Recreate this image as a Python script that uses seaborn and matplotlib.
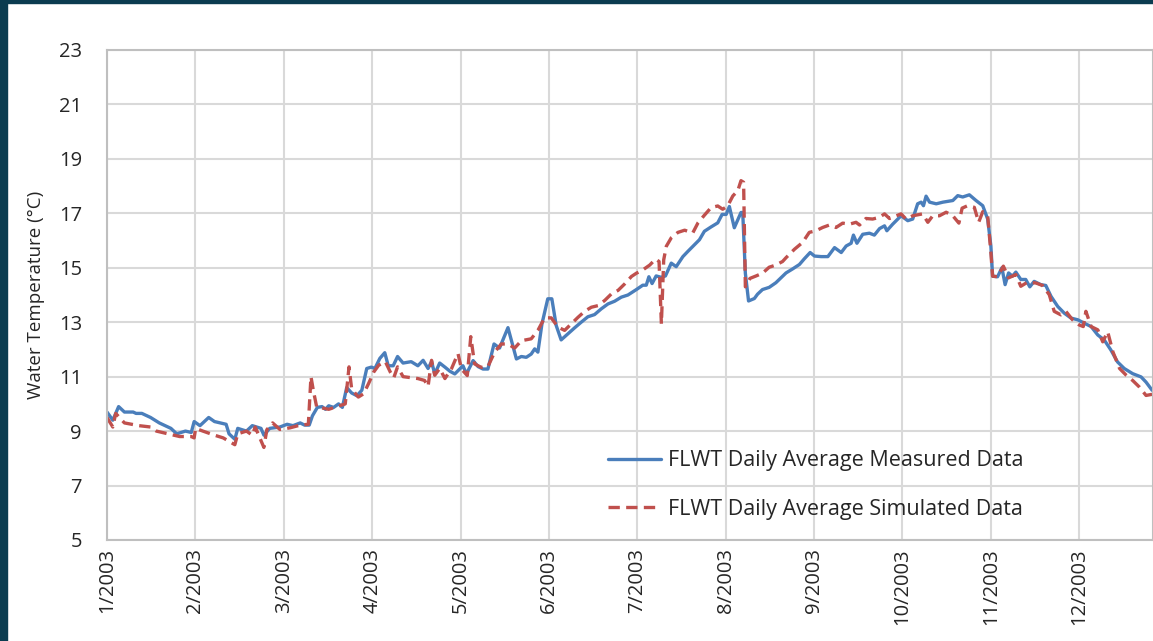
import numpy as np
import pandas as pd
import matplotlib
matplotlib.use("Agg")
import matplotlib.pyplot as plt
import seaborn as sns
from matplotlib.patches import Rectangle

# Month tick labels (evenly spaced, ~30.4 days apart)
month_labels = ["1/2003", "2/2003", "3/2003", "4/2003", "5/2003", "6/2003",
                "7/2003", "8/2003", "9/2003", "10/2003", "11/2003", "12/2003"]

# Measured data (day of year, degC)
meas_day = [0, 2, 4, 6, 9, 10, 12, 15, 18, 22, 24, 27, 29, 30, 32, 35, 37, 39, 41, 42,
            44, 45, 48, 50, 53, 54, 56, 59.5, 62, 64, 66.5, 68, 69.6, 70.7, 72.4, 74,
            75.2, 76.3, 78, 79.7, 81, 82.5, 84.2, 86, 87.7, 89.4, 91, 92.2, 93.9, 95.6,
            96.8, 98.5, 100, 101.9, 104.7, 107, 108.8, 110.5, 111.7, 112.8, 114.5, 116.3,
            118, 119.7, 121.4, 122.5, 123.7, 126, 127.7, 129.4, 131.1, 133.2, 135.1, 138,
            140.9, 142.6, 144.3, 146, 147.2, 148.3, 149.7, 151.7, 153.1, 154.6, 156.3,
            158.6, 160.9, 163.2, 165.5, 167.8, 170.1, 172.4, 174.7, 177, 179.3, 182.2,
            184.4, 185.6, 186.5, 187.6, 189, 190.7, 192.2, 194.2, 195.9, 198.2, 199.9,
            202.2, 203.9, 205.6, 207.9, 210.2, 211.7, 213.1, 214.2, 215.9, 218.2, 218.8,
            219.7, 220.8, 222.8, 223.9, 225.6, 227.9, 230.2, 233.7, 236, 238.3, 240, 242,
            243.5, 245.8, 248.1, 250.4, 252.7, 254.4, 256.1, 256.9, 258.1, 260.1, 262.4,
            264.1, 265.9, 267.6, 268.4, 270.4, 273.3, 275.6, 277.3, 279, 280.2, 281,
            281.9, 283.1, 285.4, 287.7, 291.1, 292.8, 294.5, 296.8, 299.1, 301.4, 303.1,
            304.2, 304.8, 306.5, 308, 309.1, 310.3, 311.6, 312.8, 314.5, 316.2, 317.6,
            319.1, 321.4, 323.1, 324.9, 327.2, 329.5, 331.8, 334.1, 336.4, 338.7, 341,
            343.2, 345.5, 347.8, 350.1, 353, 355.9, 357.6, 359.7]
meas_temp = [9.7, 9.4, 9.9, 9.7, 9.7, 9.65, 9.65, 9.5, 9.3, 9.1, 8.9, 9.0, 8.95, 9.35, 9.2,
             9.5, 9.35, 9.3, 9.25, 8.9, 8.7, 9.1, 9.0, 9.2, 9.1, 8.85, 9.1, 9.15, 9.25, 9.2,
             9.3, 9.22, 9.22, 9.56, 9.87, 9.9, 9.8, 9.93, 9.87, 10.0, 9.87, 10.6, 10.4,
             10.3, 10.5, 11.3, 11.35, 11.3, 11.67, 11.88, 11.4, 11.4, 11.74, 11.5, 11.55,
             11.4, 11.6, 11.3, 11.55, 11.1, 11.5, 11.35, 11.2, 11.1, 11.28, 11.4, 11.1,
             11.59, 11.37, 11.28, 11.28, 12.2, 12.05, 12.8, 11.65, 11.74, 11.71, 11.83,
             12.02, 11.9, 12.94, 13.86, 13.86, 12.88, 12.35, 12.57, 12.79, 13.0, 13.2,
             13.28, 13.49, 13.67, 13.77, 13.92, 14.0, 14.2, 14.36, 14.36, 14.67, 14.42,
             14.7, 14.65, 14.7, 15.17, 15.04, 15.41, 15.6, 15.85, 16.03, 16.34, 16.5,
             16.65, 16.96, 16.96, 17.25, 16.47, 17.03, 17.03, 14.8, 13.78, 13.87, 14.03,
             14.2, 14.28, 14.45, 14.81, 14.96, 15.12, 15.33, 15.56, 15.43, 15.41, 15.41,
             15.74, 15.56, 15.8, 15.9, 16.2, 15.9, 16.23, 16.27, 16.2, 16.44, 16.54, 16.36,
             16.6, 16.91, 16.73, 16.79, 17.35, 17.41, 17.28, 17.63, 17.41, 17.35, 17.41,
             17.47, 17.65, 17.6, 17.68, 17.47, 17.28, 16.79, 15.8, 14.69, 14.67, 15.0,
             14.38, 14.81, 14.69, 14.84, 14.57, 14.57, 14.3, 14.5, 14.38, 14.35, 13.95,
             13.58, 13.33, 13.15, 13.09, 12.96, 12.84, 12.53, 12.35, 11.98, 11.54, 11.3,
             11.11, 10.99, 10.8, 10.5]

# Simulated data (day of year, degC)
sim_day = [0, 2, 3, 6, 11, 15, 17, 21, 25, 29, 30, 30.5, 33, 37, 40, 44, 45, 48, 50, 51,
           53, 54, 55, 57, 59.5, 63, 66.5, 69.3, 70.2, 71, 72.2, 74, 76.3, 79.2, 82, 83.3,
           84.2, 86.5, 88.3, 90, 91.8, 93.5, 95.8, 97.5, 98.7, 100, 101.9, 104.7, 107,
           109.3, 110.5, 111.7, 112.8, 114.5, 116.3, 118.6, 120.8, 122, 124, 125.2, 126.5,
           128.8, 131.1, 133.4, 135.7, 138, 140.3, 142.6, 146, 148.3, 150.6, 152.9, 155.2,
           157.5, 159.8, 162.1, 164.4, 166.7, 169, 171.3, 173.6, 175.9, 178.2, 180.5,
           182.2, 184.4, 186.8, 188.8, 190, 190.8, 191.6, 192.5, 194.2, 196.5, 198.8,
           201.6, 203.4, 205.6, 207.9, 210.2, 211.9, 213.6, 215.4, 217.1, 218.2, 219.1,
           219.7, 221.3, 223.4, 225.6, 227.9, 230.2, 232.5, 233.7, 236.6, 239.4, 241.7,
           244, 246.3, 248.6, 250.9, 253.2, 255.5, 257.8, 259, 261.2, 263.5, 265.8, 267.6,
           269.3, 271.6, 273.3, 275, 277.3, 280.7, 282.5, 284.2, 286.5, 288.8, 291.1,
           293.2, 294.3, 296.2, 298.5, 300, 301.4, 303.1, 304.2, 304.8, 306.5, 308.5,
           310.3, 312.8, 314.5, 316.8, 319.7, 322, 324.3, 326, 328.3, 330, 332.3, 334.6,
           336, 336.9, 338.7, 341, 342.7, 344.4, 346.2, 348.5, 350.8, 353, 355.3, 357.6,
           359.7]
sim_temp = [9.5, 9.15, 9.65, 9.3, 9.2, 9.15, 9.0, 8.9, 8.8, 8.8, 8.75, 9.1, 9.0, 8.85, 8.75,
            8.5, 8.9, 9.0, 8.85, 9.15, 8.65, 8.4, 9.05, 9.3, 9.06, 9.12, 9.22, 9.25, 11.0,
            10.5, 9.87, 9.85, 9.8, 9.9, 10.0, 11.36, 10.55, 10.25, 10.37, 10.74, 11.17,
            11.42, 11.55, 11.17, 10.96, 11.36, 11.0, 10.96, 10.93, 10.86, 10.64, 11.6,
            11.05, 11.3, 10.93, 11.3, 11.85, 11.28, 11.04, 12.47, 11.47, 11.34, 11.37,
            11.9, 12.2, 12.2, 12.05, 12.32, 12.39, 12.7, 13.16, 13.16, 12.82, 12.7, 12.94,
            13.18, 13.4, 13.55, 13.61, 13.8, 14.04, 14.17, 14.41, 14.68, 14.8, 14.92,
            15.1, 15.32, 15.23, 12.94, 15.29, 15.79, 16.1, 16.3, 16.38, 16.28, 16.65,
            16.93, 17.21, 17.27, 17.15, 17.27, 17.64, 17.83, 18.2, 18.14, 14.3, 14.61,
            14.7, 14.8, 15.02, 15.1, 15.23, 15.37, 15.68, 15.93, 16.3, 16.36, 16.48,
            16.57, 16.48, 16.64, 16.6, 16.67, 16.57, 16.81, 16.79, 16.85, 16.98, 16.81,
            16.91, 16.98, 16.79, 16.91, 16.98, 16.67, 16.91, 16.91, 17.04, 16.91, 16.64,
            17.19, 17.28, 17.22, 16.67, 17.06, 16.91, 15.56, 14.69, 14.67, 15.06, 14.63,
            14.75, 14.32, 14.47, 14.44, 14.35, 14.01, 13.4, 13.27, 13.4, 13.09, 12.9,
            12.84, 13.4, 12.84, 12.72, 12.28, 12.65, 11.91, 11.3, 11.05, 10.86, 10.62,
            10.31, 10.35]

df_meas = pd.DataFrame({"day": meas_day, "temp": meas_temp})
df_sim = pd.DataFrame({"day": sim_day, "temp": sim_temp})

sns.set_style("white")
plt.rcParams["font.family"] = ["Open Sans", "DejaVu Sans"]

fig = plt.figure(figsize=(11.53, 6.41), dpi=100)
ax = fig.add_axes([0.0928, 0.1576, 0.9072, 0.7644])

sns.lineplot(data=df_meas, x="day", y="temp", ax=ax, color="#4a7ebb", linewidth=2.4,
             estimator=None, label="FLWT Daily Average Measured Data")
sns.lineplot(data=df_sim, x="day", y="temp", ax=ax, color="#c0504d", linewidth=2.4,
             estimator=None, linestyle=(0, (3.4, 1.9)), label="FLWT Daily Average Simulated Data")

month_len = 365 / 12
ax.set_xticks(np.arange(12) * month_len)
ax.set_xticklabels(month_labels, rotation=90, fontsize=14.5, color="#262626")
ax.set_xlim(0, 360)
ax.set_ylim(5, 23)
ax.set_yticks(np.arange(5, 24, 2))
ax.tick_params(axis="y", labelsize=14.5, labelcolor="#262626", length=0, pad=18)
ax.tick_params(axis="x", length=0, pad=6)
ax.set_xlabel("")
ax.set_ylabel("Water Temperature (°C)", fontsize=13.5, color="#262626", labelpad=10)

ax.grid(True, color="#d9d9d9", linewidth=1.5)
for side in ["left", "bottom", "top", "right"]:
    ax.spines[side].set_color("#bfbfbf")
    ax.spines[side].set_linewidth(1.5)

ax.legend(loc="center left", bbox_to_anchor=(0.469, 0.112), frameon=False, fontsize=15.5,
          handlelength=2.45, handletextpad=0.33, labelspacing=1.28, borderpad=0)

# dark frame edges seen in the original screenshot
fig.patches.append(Rectangle((0, 0), 7 / 1153, 1, transform=fig.transFigure,
                             color="#0b3c50", zorder=10))
fig.patches.append(Rectangle((0, 1 - 3 / 641), 1, 3 / 641, transform=fig.transFigure,
                             color="#0b3c50", zorder=10))

fig.savefig("out.png", dpi=100)
